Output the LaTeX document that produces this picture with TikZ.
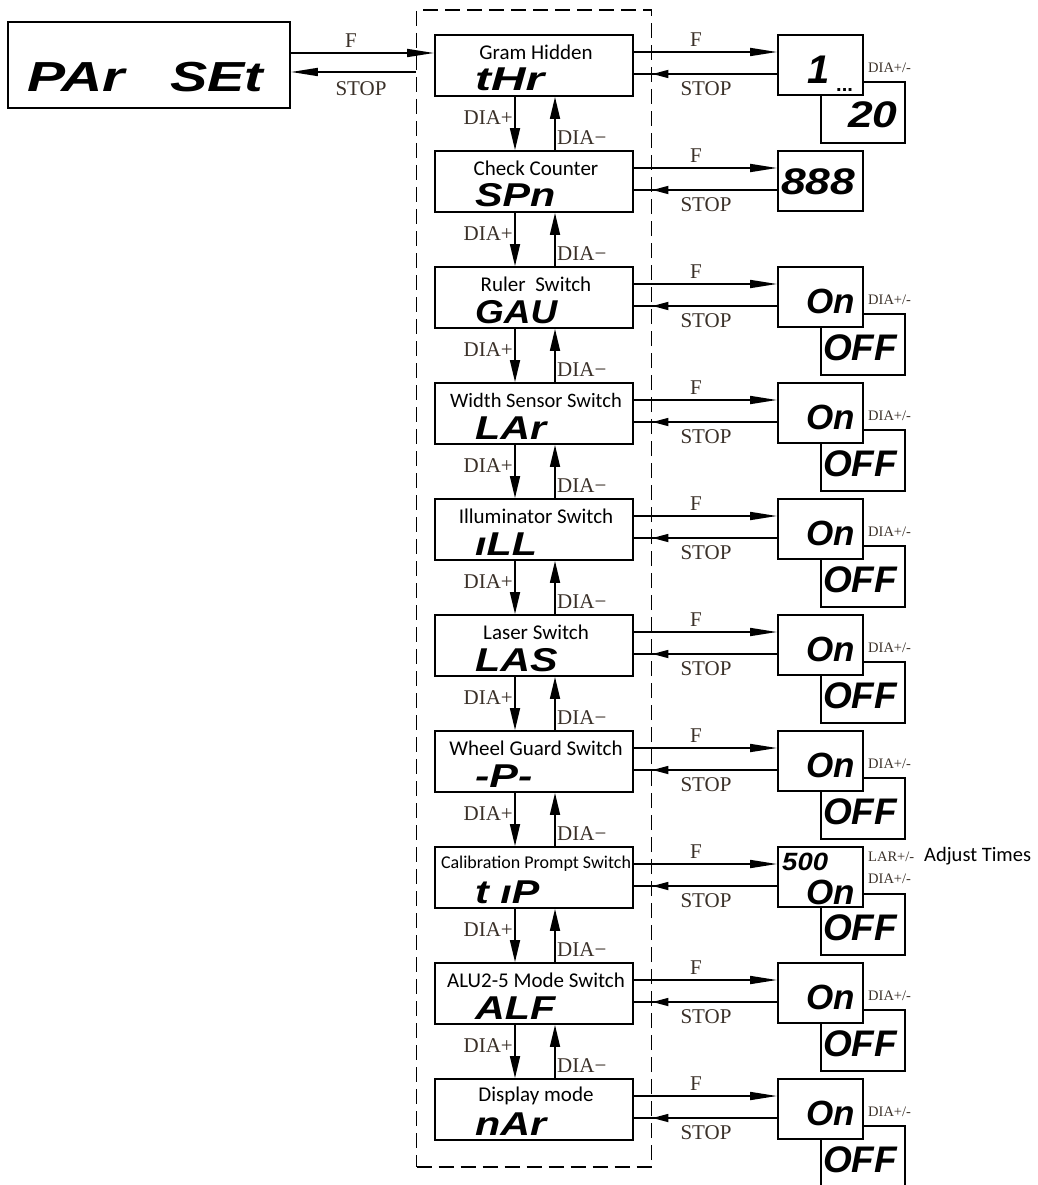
\documentclass[tikz,border=0pt]{standalone}
\usepackage{fontspec}
\usepackage{graphicx}
\setmainfont{Liberation Serif}
\newfontfamily\calfont{Carlito}
\newfontfamily\segfont{Liberation Sans}
\usetikzlibrary{arrows.meta}
\definecolor{labcol}{HTML}{3A3028}
\newcommand\segtxt[2]{\scalebox{#1}[1]{#2}}
\begin{document}
\begin{tikzpicture}[x=1pt,y=-1pt,
  box/.style={draw,line width=1.9pt,fill=white,minimum width=198pt,minimum height=61pt,inner sep=0pt},
  dbox/.style={draw,line width=1.9pt,fill=white,minimum width=85pt,minimum height=60pt,inner sep=0pt},
  obox/.style={draw,line width=1.9pt,fill=white,minimum width=84pt,minimum height=61pt,inner sep=0pt},
  ttl/.style={font=\calfont\fontsize{21}{21}\selectfont,inner sep=0pt},
  seg/.style={font=\segfont\bfseries\itshape\fontsize{33}{33}\selectfont,inner sep=0pt,anchor=base west},
  bigseg/.style={seg,font=\segfont\bfseries\itshape\fontsize{37}{37}\selectfont},
  lab/.style={font=\fontsize{21}{21}\selectfont,text=labcol,inner sep=0pt},
  smalllab/.style={font=\fontsize{14.5}{14.5}\selectfont,text=labcol,inner sep=0pt,anchor=west},
  arr/.style={line width=1.7pt,-{Triangle[length=27pt,width=8pt]}},
  varr/.style={line width=1.7pt,-{Triangle[length=22pt,width=10pt]}},
  sarr/.style={line width=1.7pt,-{Triangle[length=16pt,width=8pt]}},
  conn/.style={line width=1.7pt},
  grpbox/.style={draw,line width=1.9pt,dash pattern=on 15pt off 7pt,minimum width=235pt,minimum height=1157pt,inner sep=0pt}
]
\useasboundingbox (0,0) rectangle (1037,1185);
\node[grpbox] (grp) at (534,588.5) {};

% left PAr SEt box
\node[draw,line width=1.9pt,minimum width=282pt,minimum height=86pt,inner sep=0pt] (pbox) at (149,65) {};
\node[seg,font=\segfont\bfseries\itshape\fontsize{42}{42}\selectfont] (p1) at (27,92) {\segtxt{1.36}{PAr}};
\node[seg,font=\segfont\bfseries\itshape\fontsize{42}{42}\selectfont] (p2) at (170,92) {\segtxt{1.33}{SEt}};

% main boxes
\foreach \i/\fs/\ttext/\stext/\sc in {0/21/Gram Hidden/tHr/1.45, 1/21/Check Counter/SPn/1.25, 2/21/Ruler\ \ Switch/GAU/1.12, 3/20.5/Width Sensor Switch/LAr/1.25, 4/21/Illuminator Switch/ıLL/1.25, 5/21/Laser Switch/LAS/1.25, 6/21/Wheel Guard Switch/-P-/1.3, 7/18/Calibration Prompt Switch/t ıP/1.25, 8/21/ALU2-5 Mode Switch/ALF/1.25, 9/21/Display mode/nAr/1.25} {
  \pgfmathsetmacro\tp{35+116*\i}
  \node[box] (b\i) at (534,\tp+30.5) {};
  \node[ttl,font=\calfont\fontsize{\fs}{\fs}\selectfont] (t\i) at (536,\tp+17) {\ttext};
  \node[seg] (s\i) at (475,\tp+56) {\segtxt{\sc}{\stext}};
  \coordinate (fy\i) at (0,\tp+17);
  \coordinate (sy\i) at (0,\tp+39);
  \node[lab] (f\i) at (696,\tp+5) {F};
  \node[lab] (st\i) at (706,\tp+54) {STOP};
}

% vertical DIA arrows
\foreach \i in {0,...,8} {
  \pgfmathtruncatemacro\j{\i+1}
  \draw[varr] ([xshift=-19pt]b\i.south) -- ([xshift=-19pt]b\j.north);
  \draw[varr] ([xshift=21pt]b\j.north) -- ([xshift=21pt]b\i.south);
  \node[lab,anchor=east] (dp\i) at ([xshift=-21pt,yshift=-21pt]b\i.south) {DIA+};
  \node[lab,anchor=west] (dm\i) at ([xshift=23pt,yshift=-41pt]b\i.south) {DIA−};
}

% row 0 display: 1 ... 20
\node[obox] (o0) at (863,35+77.5) {};
\node[dbox] (d0) at (820.5,35+30) {};
\node[seg,font=\segfont\bfseries\itshape\fontsize{40}{40}\selectfont] (v0a) at (807,84) {1};
\node[seg,font=\segfont\bfseries\fontsize{20}{20}\selectfont] (v0b) at (836,92) {...};
\node[bigseg] (v0c) at (848,128) {\segtxt{1.2}{20}};
\node[smalllab] (dl0) at (868,68) {DIA+/-};

% row 1 display: 888
\node[dbox] (d1) at (820.5,151+30) {};
\node[bigseg] (v1) at (781,195) {\segtxt{1.2}{888}};

% On/OFF rows
\foreach \i in {2,3,4,5,6,8,9} {
  \pgfmathsetmacro\tp{35+116*\i}
  \node[obox] (o\i) at (863,\tp+77.5) {};
  \node[dbox] (d\i) at (820.5,\tp+30) {};
  \node[seg,font=\segfont\bfseries\itshape\fontsize{35}{35}\selectfont] (on\i) at (806,\tp+46) {On};
  \node[bigseg] (off\i) at (823,\tp+93) {OFF};
  \node[smalllab] (dl\i) at (868,\tp+33) {DIA+/-};
}

% row 7: 500 / On / OFF
\node[obox] (o7) at (863,847+77.5) {};
\node[dbox] (d7) at (820.5,847+30) {};
\node[seg,font=\segfont\bfseries\itshape\fontsize{25}{25}\selectfont] (v7a) at (782,870) {\segtxt{1.1}{500}};
\node[seg,font=\segfont\bfseries\itshape\fontsize{35}{35}\selectfont] (on7) at (806,904) {On};
\node[bigseg] (off7) at (823,847+93) {OFF};
\node[smalllab] (lar7) at (868,857) {LAR+/-};
\node[anchor=west,inner sep=0pt,font=\calfont\fontsize{20.5}{20.5}\selectfont] (adj7) at (924,856) {Adjust Times};
\node[smalllab] (dl7) at (868,879) {DIA+/-};

% horizontal F / STOP arrows
\foreach \i in {0,...,9} {
  \draw[arr] (b\i.east |- fy\i) -- (d\i.west |- fy\i);
  \draw[conn] (d\i.west |- sy\i) -- (b\i.east |- sy\i);
  \draw[sarr] (d\i.west |- sy\i) -- (grp.east |- sy\i);
}

% left arrows
\coordinate (pf) at (0,53);
\coordinate (ps) at (0,72);
\draw[arr] (pbox.east |- pf) -- (b0.west |- pf);
\draw[arr] (grp.west |- ps) -- (pbox.east |- ps);
\node[lab] (pfl) at (351,41) {F};
\node[lab] (psl) at (361,89) {STOP};
\end{tikzpicture}
\end{document}
